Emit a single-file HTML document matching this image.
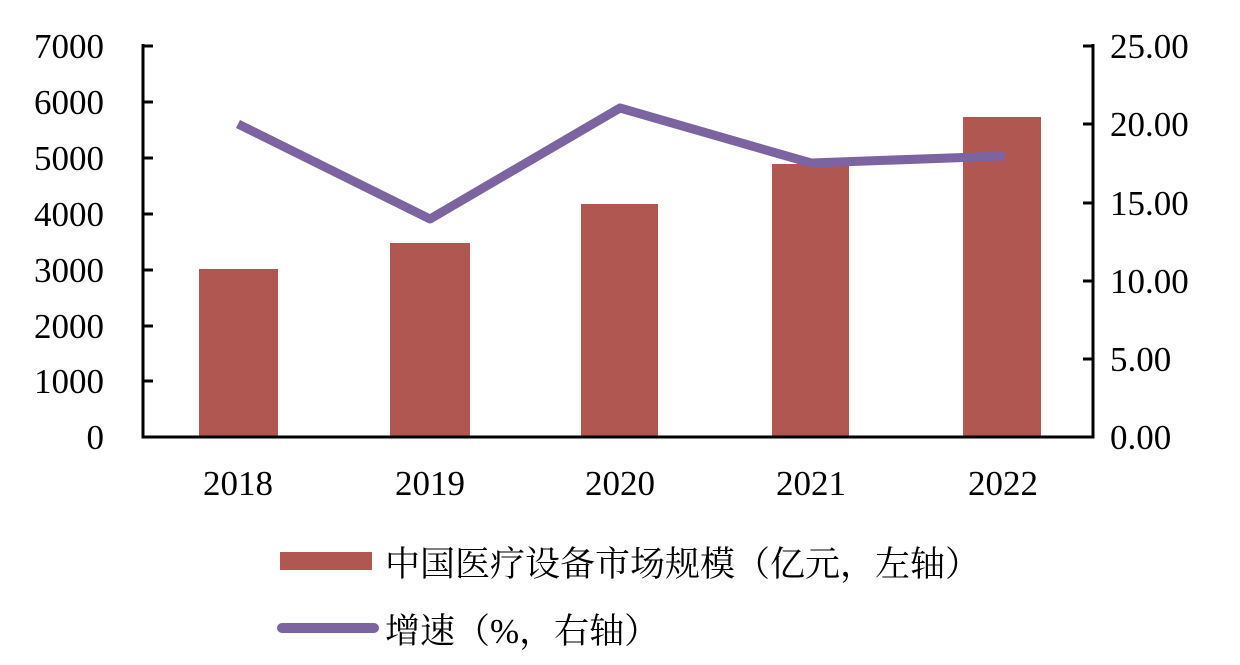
<!DOCTYPE html>
<html><head><meta charset="utf-8"><style>body{margin:0;background:#fff}</style></head><body>
<svg width="1240" height="660" xmlns="http://www.w3.org/2000/svg" font-family="'Liberation Serif','Noto Serif CJK SC',serif">
<g fill="#b05752">
<rect x="199" y="269" width="79" height="168"/>
<rect x="390" y="243" width="80" height="194"/>
<rect x="581" y="204" width="77" height="233"/>
<rect x="772" y="164" width="77" height="273"/>
<rect x="963" y="117" width="78" height="320"/>
</g>
<g stroke="#000" stroke-width="3" fill="none">
<path d="M143,44V437H1093V44"/>
<path d="M143,46h10M143,102h10M143,158h10M143,214h10M143,270h10M143,326h10M143,381h10"/>
<path d="M1093,46h-10M1093,124h-10M1093,203h-10M1093,281h-10M1093,359h-10"/>
</g>
<polyline points="238,124 430,219 620,108 811,163 1005,156" fill="none" stroke="#7b64a0" stroke-width="9" stroke-linejoin="round"/>
<g font-size="35" text-anchor="end">
<text x="104" y="58">7000</text><text x="104" y="114">6000</text><text x="104" y="170">5000</text>
<text x="104" y="226">4000</text><text x="104" y="282">3000</text><text x="104" y="338">2000</text>
<text x="104" y="393">1000</text><text x="104" y="449">0</text>
</g>
<g font-size="35" text-anchor="start">
<text x="1110" y="58">25.00</text><text x="1110" y="136">20.00</text><text x="1110" y="215">15.00</text>
<text x="1110" y="293">10.00</text><text x="1110" y="371">5.00</text><text x="1110" y="449">0.00</text>
</g>
<g font-size="35" text-anchor="middle">
<text x="238" y="495">2018</text><text x="430" y="495">2019</text><text x="620" y="495">2020</text>
<text x="811" y="495">2021</text><text x="1003" y="495">2022</text>
</g>
<rect x="280" y="552" width="92" height="18" fill="#b05752"/>
<text x="385" y="576" font-size="35">中国医疗设备市场规模（亿元，左轴）</text>
<line x1="282" y1="628" x2="374" y2="628" stroke="#7b64a0" stroke-width="10" stroke-linecap="round"/>
<text x="385" y="643" font-size="35">增速（%，右轴）</text>
</svg>
</body></html>
